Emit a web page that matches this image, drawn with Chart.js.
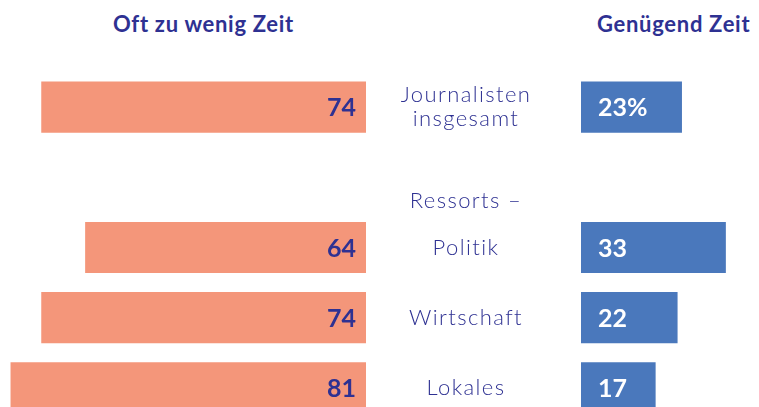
<!DOCTYPE html>
<html>
<head>
<meta charset="utf-8">
<script src="https://cdn.jsdelivr.net/npm/chart.js@4"></script>
<style>
  html, body { margin: 0; padding: 0; background: #fff; overflow: hidden; width: 759px; height: 407px; }
  #wrap { position: relative; width: 759px; height: 407px; overflow: hidden; }
  .title { position: absolute; top: 10px; font: bold 22px Lato, sans-serif; letter-spacing: 0.7px; color: #2e3192; white-space: nowrap; }
  #leftBox { position: absolute; left: 0; top: 0; width: 366px; height: 423px; }
  #rightBox { position: absolute; left: 366px; top: 0; width: 393px; height: 423px; }
</style>
</head>
<body>
<div id="wrap">
  <div class="title" style="left:113px">Oft zu wenig Zeit</div>
  <div class="title" style="left:597px">Genügend Zeit</div>
  <div id="leftBox"><canvas id="leftChart"></canvas></div>
  <div id="rightBox"><canvas id="rightChart"></canvas></div>
</div>
<script>
const categories = ['Journalisten insgesamt', 'Ressorts', 'Politik', 'Wirtschaft', 'Lokales'];
const rowLabels = [['Journalisten', 'insgesamt'], ['', '', 'Ressorts –'], ['Politik'], ['Wirtschaft'], ['Lokales']];
const tooLittle = [74, null, 64, 74, 81];
const enough = [23, null, 33, 22, 17];
const enoughText = ['23%', '', '33', '22', '17'];

const navy = '#2e3192';

// value labels inside the bars
const valueLabels = {
  id: 'valueLabels',
  afterDatasetsDraw(chart, args, opts) {
    const ctx = chart.ctx;
    const meta = chart.getDatasetMeta(0);
    ctx.save();
    ctx.font = 'bold 25px Lato, sans-serif';
    ctx.textBaseline = 'middle';
    meta.data.forEach((bar, i) => {
      const v = chart.data.datasets[0].data[i];
      if (v == null) return;
      if (opts.side === 'left') {
        ctx.fillStyle = navy;
        ctx.textAlign = 'right';
        ctx.fillText(String(v), bar.base - 10, bar.y + 1);
      } else {
        ctx.fillStyle = '#ffffff';
        ctx.textAlign = 'left';
        ctx.fillText(enoughText[i], bar.base + 17, bar.y + 1);
      }
    });
    ctx.restore();
  }
};

// category labels in the gap between both halves
const rowNames = {
  id: 'rowNames',
  afterDraw(chart) {
    const ctx = chart.ctx;
    const y = chart.scales.y;
    const cx = chart.chartArea.left - 115;
    ctx.save();
    ctx.font = '300 22px Lato, sans-serif';
    ctx.letterSpacing = '1.4px';
    ctx.fillStyle = navy;
    ctx.textAlign = 'center';
    ctx.textBaseline = 'middle';
    rowLabels.forEach((lines, i) => {
      const cy = y.getPixelForValue(i);
      const lh = 24;
      lines.forEach((t, k) => {
        ctx.fillText(t, cx, cy + (k - (lines.length - 1) / 2) * lh);
      });
    });
    ctx.restore();
  }
};

function baseOptions(max, reverse, padLeft) {
  return {
    indexAxis: 'y',
    responsive: true,
    maintainAspectRatio: false,
    animation: false,
    layout: { padding: { top: 72, left: padLeft, right: 0, bottom: 0 } },
    plugins: { legend: { display: false }, tooltip: { enabled: false } },
    scales: {
      x: { display: false, min: 0, max: max, reverse: reverse },
      y: { display: false, grid: { display: false } }
    }
  };
}

const leftOpts = baseOptions(83.4, true, 0);
leftOpts.plugins.valueLabels = { side: 'left' };
new Chart(document.getElementById('leftChart'), {
  type: 'bar',
  data: {
    labels: categories,
    datasets: [{ data: tooLittle, backgroundColor: '#f4967a', categoryPercentage: 1, barPercentage: 0.73 }]
  },
  options: leftOpts,
  plugins: [valueLabels]
});

const rightOpts = baseOptions(40.55, false, 215);
rightOpts.plugins.valueLabels = { side: 'right' };
new Chart(document.getElementById('rightChart'), {
  type: 'bar',
  data: {
    labels: categories,
    datasets: [{ data: enough, backgroundColor: '#4a78bc', categoryPercentage: 1, barPercentage: 0.73 }]
  },
  options: rightOpts,
  plugins: [valueLabels, rowNames]
});
</script>
</body>
</html>
